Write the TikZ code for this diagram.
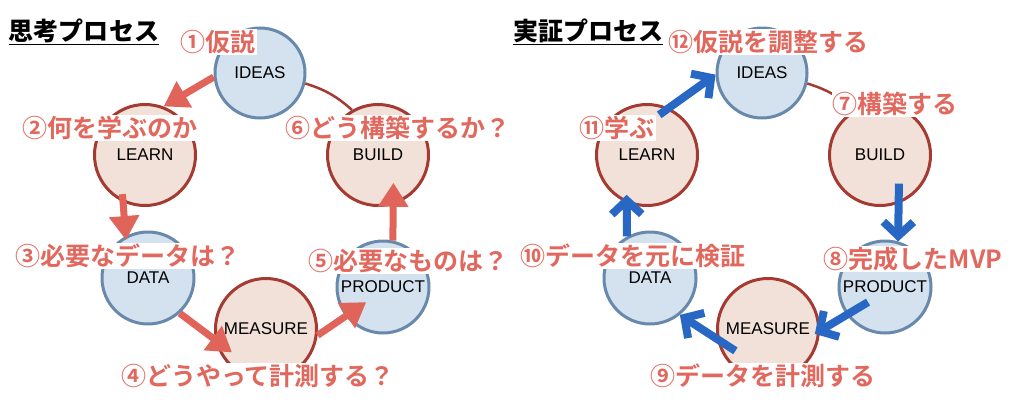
\documentclass[tikz,border=0pt]{standalone}
\usepackage{fontspec}
\newfontfamily\jpfont{Noto Sans CJK JP Bold}
\newfontfamily\jpbold{Noto Sans CJK JP Black}
\newfontfamily\lsfont{Liberation Sans}
\usetikzlibrary{arrows.meta}
\definecolor{vienxanh}{RGB}{104,137,172}
\definecolor{nenxanh}{RGB}{212,225,238}
\definecolor{viendo}{RGB}{165,58,50}
\definecolor{nendo}{RGB}{242,225,216}
\definecolor{chudo}{RGB}{226,104,94}
\definecolor{tenxanh}{RGB}{40,104,196}
\definecolor{tendo}{RGB}{224,100,90}
\begin{document}
\begin{tikzpicture}[x=1pt,y=-1pt,line join=round]
	\useasboundingbox (0,0) rectangle (1024,408);
	\tikzset{cxanh/.style={circle,draw=vienxanh,fill=nenxanh,line width=3pt,inner sep=0pt,font=\lsfont\fontsize{17}{17}\selectfont},
		cdo/.style={cxanh,draw=viendo,fill=nendo},
		nhan/.style={fill=white,text=chudo,inner sep=1pt,font=\jpfont\fontsize{25}{25}\selectfont},
		tieude/.style={inner sep=1pt,font=\jpbold\fontsize{25}{25}\selectfont},
		mdo/.style={draw=tendo,line width=7pt,-{Triangle[length=24pt,width=29pt]}},
		mxanh/.style={draw=tenxanh,line width=8pt,-{Straight Barb[length=14pt,width=30pt]}},
		vien/.style={draw=viendo,line width=2.5pt},
		vong/.pic={
			\node[cxanh,minimum size=90pt] (-ideas) at (260,73) {IDEAS};
			\node[cdo,minimum size=101pt] (-learn) at (145,155) {LEARN};
			\node[cdo,minimum size=101pt] (-build) at (378,155) {BUILD};
			\node[cxanh,minimum size=92pt] (-data) at (148,278) {DATA};
			\node[cdo,minimum size=101pt] (-measure) at (266,329) {MEASURE};
			\node[cxanh,minimum size=92pt] (-product) at (383,287) {PRODUCT};
			\draw[vien] (-ideas.347) to[bend left=12] (-build.120);
	}}
	\pic (L) at (0,0) {vong};
	\pic (R) at (502,0) {vong};
	% thinking loop
	\draw[mdo] (L-ideas.185) -- (L-learn.69);
	\draw[mdo,shorten <=-8pt,shorten >=-4pt] (L-learn.245) -- (L-data.118);
	\draw[mdo,shorten >=-21pt] (L-data.312) -- (L-measure.192);
	\draw[mdo,shorten >=-25pt] (L-measure.353) -- (L-product.218);
	\draw[mdo,shorten >=-22pt] (L-product.78) -- (L-build.287);
	% proof loop
	\draw[mxanh,shorten <=-12pt] (R-learn.65) -- (R-ideas.182);
	\draw[mxanh,shorten <=-20pt] (R-build.291) -- (R-product.74);
	\draw[mxanh,shorten <=-25pt,shorten >=-6pt] (R-product.216) -- (R-measure.358);
	\draw[mxanh,shorten <=-22pt] (R-measure.191) -- (R-data.309);
	\draw[mxanh,shorten >=-8pt] (R-data.119) -- (R-learn.247);
	\node[tieude] (tieude1) at (84,32) {\underline{思考プロセス}};
	\node[tieude] (tieude2) at (588,32) {\underline{実証プロセス}};
	\node[nhan] (n1) at (218,42) {①仮説};
	\node[nhan] (n2) at (110,128) {②何を学ぶのか};
	\node[nhan] (n3) at (128,256) {③必要なデータは？};
	\node[nhan] (n4) at (258,376) {④どうやって計測する？};
	\node[nhan] (n5) at (408,261) {⑤必要なものは？};
	\node[nhan] (n6) at (398,128) {⑥どう構築するか？};
	\node[nhan] (n7) at (895,104) {⑦構築する};
	\node[nhan] (n8) at (913,259) {⑧完成したMVP};
	\node[nhan] (n9) at (763,376) {⑨データを計測する};
	\node[nhan] (n10) at (633,256) {⑩データを元に検証};
	\node[nhan] (n11) at (617,128) {⑪学ぶ};
	\node[nhan] (n12) at (768,42) {⑫仮説を調整する};
\end{tikzpicture}
\end{document}
